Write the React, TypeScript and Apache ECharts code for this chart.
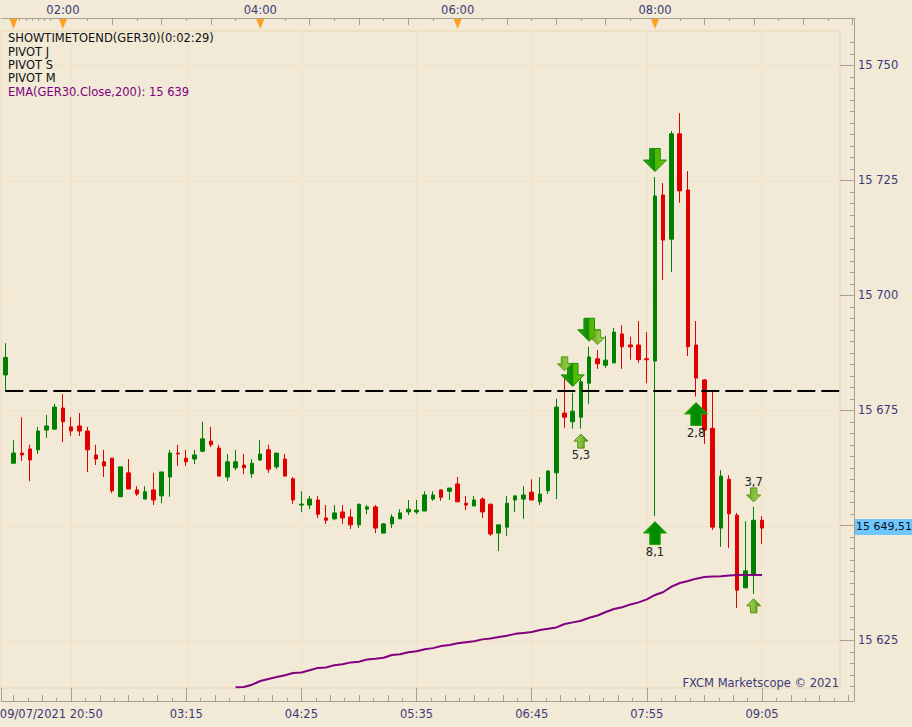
import React, { useEffect, useRef } from "react";
import * as echarts from "echarts";

// Candle values, one entry per 5-minute bar
const opens = [15682.7,15663.5,15665.7,15666.6,15666.4,15670.7,15670.9,15675.5,15671.4,15671.6,15670.5,15665.3,15663.8,15664.6,15656.2,15661.4,15657.7,15655.7,15657.7,15656.4,15660.5,15665.7,15664.6,15664.4,15666.1,15668.3,15666.8,15660.5,15662.5,15663.1,15661.2,15664.2,15666.4,15662.7,15664.4,15660.1,
  15654.4,15654.4,15655.5,15651.6,15651.4,15652.9,15651.8,15650.1,15653.5,15654.0,15648.3,15650.3,15651.4,15652.9,15652.9,15653.1,15655.7,15657.7,15657.4,15659.0,15654.8,15654.2,15655.7,15654.6,15648.3,15649.6,15655.5,15655.7,15657.2,15655.1,15657.5,15661.4,
  15674.4,15672.5,15673.5,15680.9,15686.2,15684.8,15685.3,15691.6,15689.2,15689.2,15686.2,15685.7,15721.8,15712.2,15735.1,15722.9,15689.2,15681.6,15671.1,15649.4,15660.0,15652.2,15636.4,15639.2,15651.1];
const closes = [15686.5,15665.7,15665.3,15664.2,15670.5,15671.6,15675.7,15672.5,15670.5,15670.5,15666.4,15664.4,15662.9,15657.5,15662.7,15657.9,15656.8,15657.3,15655.5,15661.6,15665.7,15665.5,15663.8,15665.3,15668.8,15667.5,15660.7,15663.8,15663.8,15662.5,15663.5,15665.5,15662.2,15665.7,15660.7,15655.5,
  15654.6,15655.7,15652.4,15651.1,15652.7,15651.6,15650.1,15654.6,15654.0,15649.4,15650.3,15651.8,15652.7,15653.5,15653.3,15656.6,15656.6,15656.1,15658.1,15655.1,15654.4,15655.5,15652.9,15648.1,15650.1,15654.8,15656.4,15656.6,15655.5,15656.8,15661.8,15675.7,
  15673.5,15674.8,15681.2,15686.6,15685.1,15685.9,15692.0,15688.8,15688.8,15686.0,15686.0,15721.6,15712.0,15735.1,15722.7,15688.8,15682.0,15670.7,15649.6,15660.7,15652.5,15635.9,15640.1,15651.1,15649.4];
const lows = [15679.2,15663.5,15664.0,15659.6,15665.5,15669.0,15670.9,15668.1,15669.4,15669.4,15661.6,15663.1,15660.5,15657.0,15656.2,15657.9,15656.4,15655.7,15654.4,15654.8,15656.2,15662.9,15662.9,15663.3,15665.9,15667.0,15660.7,15659.6,15662.0,15661.1,15660.3,15664.0,15661.4,15662.2,15660.7,15654.6,
  15652.9,15653.5,15651.6,15650.3,15651.1,15650.3,15649.2,15649.4,15652.4,15648.3,15648.3,15649.4,15651.4,15652.2,15652.4,15653.1,15655.3,15655.3,15655.5,15655.1,15653.3,15654.2,15651.6,15647.7,15644.4,15647.7,15652.9,15651.4,15655.5,15654.4,15656.8,15655.7,
  15671.2,15671.0,15671.0,15676.4,15684.0,15684.2,15685.3,15684.0,15686.0,15685.3,15680.9,15652.0,15703.3,15705.1,15720.1,15686.8,15678.0,15667.7,15649.0,15645.3,15645.1,15632.0,15636.4,15635.1,15645.9];
const highs = [15689.6,15668.5,15673.5,15667.5,15671.4,15674.0,15676.4,15678.5,15673.5,15674.4,15671.4,15667.5,15666.4,15664.6,15662.7,15664.4,15658.5,15658.5,15661.4,15661.6,15666.4,15667.5,15666.4,15666.4,15672.5,15671.4,15667.5,15665.5,15666.4,15665.5,15664.4,15668.5,15667.5,15665.7,15665.5,15660.5,
  15657.4,15656.4,15656.4,15654.4,15654.4,15654.4,15653.5,15654.6,15654.4,15654.4,15650.5,15652.4,15653.5,15655.5,15655.5,15657.4,15657.4,15657.7,15658.1,15660.5,15656.4,15656.4,15656.1,15654.6,15650.1,15656.4,15656.4,15658.5,15660.0,15660.5,15662.0,15677.5,
  15682.0,15678.8,15682.5,15688.8,15688.1,15691.2,15692.9,15693.5,15691.0,15694.4,15692.0,15725.7,15724.4,15735.7,15739.6,15727.0,15694.4,15681.8,15679.0,15662.0,15660.9,15652.7,15650.9,15654.0,15652.0];

// EMA(200) starts on bar 28
const emaStart = 28;
const emaValues = [15614.8,15614.85,15615.35,15616.15,15616.6,15617.0,15617.4,15617.9,15618.0,15618.5,15619.0,15619.1,15619.6,15619.8,15620.2,15620.35,15620.85,15621.0,15621.2,15621.8,15621.95,15622.4,15622.6,15623.05,15623.3,15623.75,15624.0,15624.35,15624.6,15624.8,15625.2,15625.4,15625.7,
  15626.0,15626.4,15626.6,15626.8,15627.25,15627.5,15627.8,15628.55,15628.9,15629.25,15629.9,15630.4,15631.15,15631.8,15632.2,15632.8,15633.25,15633.9,15634.85,15635.5,15636.65,15637.45,15637.9,15638.4,15638.75,15638.85,15638.9,15639.1,15639.2,15639.2,15639.2,15639.2];

const pivotLevel = 15679.2;
const currentPriceLabel = "15 649,51";

const priceTicks = [15625, 15650, 15675, 15700, 15725, 15750];
const priceTickLabels = ["15 625", "", "15 675", "15 700", "15 725", "15 750"];

const topLabelBars = [7, 31, 55, 79];
const topLabels = ["02:00", "04:00", "06:00", "08:00"];
const eventMarkerBars = [1, 7, 31, 55, 79];

const bottomGridBars = [-0.5, 8, 22, 36, 50, 64, 78, 92];
const bottomLabelBars = [5.6, 22, 36, 50, 64, 78, 92];
const bottomLabels = ["09/07/2021 20:50", "03:15", "04:25", "05:35", "06:45", "07:55", "09:05"];

const legendLines = ["SHOWTIMETOEND(GER30)(0:02:29)", "PIVOT J", "PIVOT S", "PIVOT M"];
const legendTops = [32, 46, 59, 72];
const emaLegend = "EMA(GER30.Close,200): 15 639";
const credit = "FXCM Marketscope \u00a9 2021";

// Signal arrows: [bar, price]
const bigDown = [[79, 15729.4], [69, 15682.7], [71, 15692.5]];
const smallDown = [[68, 15685.1], [72, 15690.8], [91, 15656.6]];
const bigUp = [[79, 15648.3], [84, 15674.2]];
const smallUp = [[70, 15668.3], [91, 15632.5]];
const bigUpLabels = ["8,1", "2,8"];
const smallUpLabels = ["5,3", ""];
const smallDownLabels = ["", "", "3,7"];

const BG = "#f2e9d7";
const GRIDLINE = "#f1e3cb";
const RULER = "#a8a093";
const INK = "#3a3a78";
const UP = "#008000";
const DOWN = "#e00000";
const PURPLE = "#800080";
const FONT = "DejaVu Sans";
const ARROW = "path://M12 0 L24 12 L17.5 12 L17.5 24 L6.5 24 L6.5 12 L0 12 Z";

const STEP = 8.225;
const LEFT = 1.2;
const PLOT_W = 838.8;
const RULER_W = 852.8;
const pxToPrice = (y: number) => 15675 + (410.3 - y) / 4.6;
const range = (from: number, to: number, step: number) => {
  const out: number[] = [];
  for (let v = from; v <= to + 1e-6; v += step) out.push(+v.toFixed(3));
  return out;
};

function gradient(stops: [number, string][]) {
  return new echarts.graphic.LinearGradient(0, 0, 1, 0, stops.map(([offset, color]) => ({ offset, color })));
}

export default function App() {
  const ref = useRef<HTMLDivElement>(null);
  useEffect(() => {
    document.body.style.margin = "0";
    const chart = echarts.init(ref.current!, undefined, { renderer: "svg" });

    const plotMax = -0.5 + PLOT_W / STEP;
    const rulerMax = -0.5 + RULER_W / STEP;
    const bottomBars = range(-6, 104, 1.75);
    const evenBars = bottomBars.filter((_, i) => i % 2 === 0 && i % 8 !== 0);
    const oddBars = bottomBars.filter((_, i) => i % 2 === 1);
    const topLong = range(13, 103, 6);
    const topShort = [...range(1.75, 5.5, 0.75), ...range(10, 100, 6), ...range(16, 100, 6)];

    const rulerX = (position: string, values: number[], length: number, line = false, extra: any = {}) => ({
      type: "value",
      gridIndex: 1,
      position,
      min: -0.5,
      max: rulerMax,
      splitLine: { show: false },
      axisLabel: { show: false },
      axisLine: { show: line, onZero: false, lineStyle: { color: RULER, width: 1 } },
      axisTick: { show: true, inside: true, length, customValues: values, lineStyle: { color: RULER } },
      ...extra,
    });
    const labelFor = (bars: number[], labels: string[]) => ({
      show: true,
      customValues: bars,
      formatter: (v: number) => labels[bars.indexOf(v)] ?? "",
      color: INK,
      fontFamily: FONT,
      fontSize: 11.5,
      hideOverlap: false,
      showMinLabel: true,
      showMaxLabel: true,
    });

    const arrowSeries = (data: number[][], size: number, color: any, border: string, labels: string[], down: boolean, gap: number) => ({
      type: "scatter",
      xAxisIndex: 0,
      yAxisIndex: 0,
      z: 6,
      symbol: ARROW,
      symbolSize: size,
      symbolRotate: down ? 180 : 0,
      silent: true,
      clip: false,
      itemStyle: { color, borderColor: border, borderWidth: 1, opacity: 1 },
      data: data.map((d, i) => ({
        value: d,
        label: {
          show: !!labels[i],
          formatter: labels[i] || "",
          position: down ? "top" : "bottom",
          distance: gap,
          color: "#222222",
          fontFamily: FONT,
          fontSize: 11.5,
        },
      })),
    });

    const bigDownFill = gradient([[0, "#6cc800"], [0.5, "#50b400"], [0.5, "#0b8c0b"], [1, "#34a400"]]);
    const bigUpFill = gradient([[0, "#159a0c"], [0.5, "#008a00"], [1, "#0d900a"]]);
    const smallDownFill = gradient([[0, "#a8d858"], [0.5, "#86c03c"], [1, "#5f9f20"]]);
    const smallUpFill = gradient([[0, "#a8d858"], [0.5, "#86c03c"], [1, "#4f9018"]]);

    chart.setOption({
      animation: false,
      backgroundColor: BG,
      grid: [
        { left: LEFT, top: 31, width: PLOT_W, height: 657, show: true, backgroundColor: "transparent", borderColor: "#eedfc5", borderWidth: 2, outerBoundsMode: "none" },
        { left: LEFT, top: 18, width: RULER_W, height: 683, outerBoundsMode: "none" },
      ],
      xAxis: [
        { type: "category", gridIndex: 0, data: range(0, 101, 1).map(String), show: false },
        {
          type: "value", gridIndex: 0, min: -0.5, max: plotMax, position: "bottom",
          axisLine: { show: false, onZero: false }, axisLabel: { show: false },
          axisTick: { show: false, customValues: bottomGridBars },
          splitLine: { show: true, lineStyle: { color: GRIDLINE, width: 1.5 } },
        },
        rulerX("bottom", bottomGridBars, 13, true, { axisLabel: { ...labelFor(bottomLabelBars, bottomLabels), margin: 7 } }),
        rulerX("bottom", evenBars, 6),
        rulerX("bottom", oddBars, 3),
        rulerX("top", topLong, 7, true, { axisLabel: { ...labelFor(topLabelBars, topLabels), margin: 2 } }),
        rulerX("top", topShort, 3),
      ],
      yAxis: [
        {
          type: "value", gridIndex: 0, min: pxToPrice(688), max: pxToPrice(31), position: "right",
          axisLine: { show: false, onZero: false }, axisLabel: { show: false },
          axisTick: { show: false, customValues: priceTicks },
          splitLine: { show: true, lineStyle: { color: GRIDLINE, width: 1.5 } },
        },
        {
          type: "value", gridIndex: 1, min: pxToPrice(701), max: pxToPrice(18), position: "right",
          axisLine: { show: true, onZero: false, lineStyle: { color: RULER, width: 1 } },
          axisTick: { show: true, inside: true, length: 14, customValues: priceTicks, lineStyle: { color: RULER } },
          splitLine: { show: false },
          axisLabel: {
            show: true, inside: false, margin: 4, color: INK, fontFamily: FONT, fontSize: 11.5, customValues: priceTicks,
            formatter: (v: number) => priceTickLabels[priceTicks.indexOf(v)] ?? "",
            showMinLabel: true, showMaxLabel: true,
          },
        },
        {
          type: "value", gridIndex: 1, min: pxToPrice(701), max: pxToPrice(18), position: "right",
          axisLine: { show: false, onZero: false }, axisLabel: { show: false }, splitLine: { show: false },
          axisTick: { show: true, inside: true, length: 4, customValues: range(15615, 15755, 2.5), lineStyle: { color: RULER } },
        },
      ],
      series: [
        {
          type: "candlestick",
          xAxisIndex: 0,
          yAxisIndex: 0,
          barWidth: 4,
          z: 3,
          itemStyle: { color: UP, color0: DOWN, borderColor: UP, borderColor0: DOWN, borderWidth: 1 },
          data: opens.map((o, i) => [o, closes[i], lows[i], highs[i]]),
        },
        {
          type: "line",
          xAxisIndex: 1,
          yAxisIndex: 0,
          z: 4,
          showSymbol: false,
          lineStyle: { color: "#000000", width: 2, type: [18, 6] },
          data: [[0, pivotLevel], [plotMax - 0.1, pivotLevel]],
        },
        {
          type: "line",
          xAxisIndex: 1,
          yAxisIndex: 0,
          z: 5,
          showSymbol: false,
          clip: false,
          lineStyle: { color: PURPLE, width: 2 },
          data: emaValues.map((v, i) => [emaStart + i, v]),
        },
        arrowSeries(bigDown, 23, bigDownFill, "#0a900a", [], true, 0),
        arrowSeries(bigUp, 23, bigUpFill, "#2aa80a", bigUpLabels, false, 1),
        arrowSeries(smallDown, 14, smallDownFill, "#5a9a18", smallDownLabels, true, -1),
        arrowSeries(smallUp, 14, smallUpFill, "#4f8f10", smallUpLabels, false, 0),
        {
          type: "scatter",
          xAxisIndex: 5,
          yAxisIndex: 1,
          z: 7,
          symbol: "triangle",
          symbolRotate: 180,
          symbolSize: [8, 10],
          itemStyle: { color: "#ffa01e", opacity: 1 },
          data: eventMarkerBars.map((b) => [b, pxToPrice(24)]),
        },
      ],
      graphic: [
        ...legendLines.map((t, i) => ({
          type: "text", x: 8, y: legendTops[i], z: 20,
          style: { text: t, fill: "#101010", font: `11.5px "${FONT}"` },
        })),
        {
          type: "text", x: 8, y: 86, z: 20,
          style: { text: emaLegend, fill: PURPLE, font: `11.5px "${FONT}"` },
        },
        {
          type: "text", x: 839, y: 677, z: 20,
          style: { text: credit, fill: INK, font: `11.5px "${FONT}"`, align: "right" },
        },
        { type: "rect", z: 20, shape: { x: 855, y: 519, width: 57, height: 16 }, style: { fill: "#6ec6ff" } },
        {
          type: "text", x: 856, y: 521, z: 21,
          style: { text: currentPriceLabel, fill: "#101010", font: `11px "${FONT}"` },
        },
      ],
    });
    return () => chart.dispose();
  }, []);
  return <div ref={ref} style={{ width: 912, height: 727, position: "absolute", left: 0, top: 0 }} />;
}
